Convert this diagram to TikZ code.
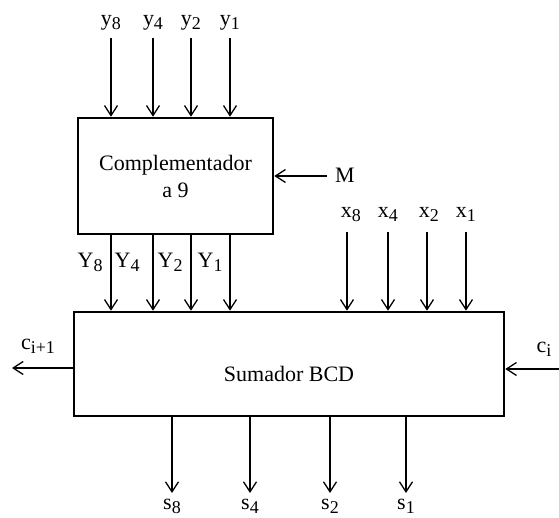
\documentclass[tikz,border=0pt]{standalone}
\usepackage{fontspec}
\setmainfont{Liberation Serif}
\usetikzlibrary{arrows.meta,positioning}
\newcommand{\sigsub}[1]{\raisebox{-1.6pt}{\fontsize{9}{9}\selectfont #1}}
\tikzset{
  unitblock/.style={rectangle,draw=black,line width=1.3pt,fill=white,inner sep=0pt,
    align=center,font=\fontsize{11}{13.5}\selectfont},
  signal/.style={inner sep=0pt,font=\fontsize{11}{13.5}\selectfont},
  arrow/.style={-{Straight Barb[length=5pt,width=6.5pt]},line width=0.65pt}
}

\begin{document}
\begin{tikzpicture}[x=0.5pt,y=-0.5pt]
  \useasboundingbox (0,0) rectangle (559,518);
  \node[unitblock, minimum width=97.5pt, minimum height=58pt] (comp) at (175.5,176) {Complementador\\a 9};
  \node[unitblock, minimum width=215pt, minimum height=52pt, text height=18pt, text depth=0pt] (sum) at (289,364) {Sumador BCD};
  % y inputs
  \node[signal, anchor=base] (ly8) at (111,26) {y\sigsub{8}};
  \node[signal, anchor=base] (ly4) at (153,26) {y\sigsub{4}};
  \node[signal, anchor=base] (ly2) at (191,26) {y\sigsub{2}};
  \node[signal, anchor=base] (ly1) at (230,26) {y\sigsub{1}};
  \coordinate (y8in) at (111,38);
  \coordinate (y4in) at (153,38);
  \coordinate (y2in) at (191,38);
  \coordinate (y1in) at (230,38);
  \draw[arrow] (y8in) -- (y8in |- comp.north);
  \draw[arrow] (y4in) -- (y4in |- comp.north);
  \draw[arrow] (y2in) -- (y2in |- comp.north);
  \draw[arrow] (y1in) -- (y1in |- comp.north);
  % M
  \node[signal, anchor=base] (lm) at (345,183) {M};
  \coordinate (min) at (327,176);
  \draw[arrow] (min) -- (min -| comp.east);
  % Y links
  \node[signal, anchor=base east] (lY8) at (103,268) {Y\sigsub{8}};
  \node[signal, anchor=base east] (lY4) at (140,268) {Y\sigsub{4}};
  \node[signal, anchor=base east] (lY2) at (183,268) {Y\sigsub{2}};
  \node[signal, anchor=base east] (lY1) at (223,268) {Y\sigsub{1}};
  \draw[arrow] (comp.south -| y8in) -- (sum.north -| y8in);
  \draw[arrow] (comp.south -| y4in) -- (sum.north -| y4in);
  \draw[arrow] (comp.south -| y2in) -- (sum.north -| y2in);
  \draw[arrow] (comp.south -| y1in) -- (sum.north -| y1in);
  % x inputs
  \node[signal, anchor=base] (lx8) at (351,218) {x\sigsub{8}};
  \node[signal, anchor=base] (lx4) at (388,218) {x\sigsub{4}};
  \node[signal, anchor=base] (lx2) at (429,218) {x\sigsub{2}};
  \node[signal, anchor=base] (lx1) at (466,218) {x\sigsub{1}};
  \coordinate (x8in) at (347,232);
  \coordinate (x4in) at (388,232);
  \coordinate (x2in) at (427,232);
  \coordinate (x1in) at (466,232);
  \draw[arrow] (x8in) -- (x8in |- sum.north);
  \draw[arrow] (x4in) -- (x4in |- sum.north);
  \draw[arrow] (x2in) -- (x2in |- sum.north);
  \draw[arrow] (x1in) -- (x1in |- sum.north);
  % carries
  \node[signal, anchor=base] (lcout) at (38,350) {c\sigsub{i+1}};
  \node[signal, anchor=base] (lcin) at (544,353) {c\sigsub{i}};
  \coordinate (cout) at (12,368);
  \coordinate (cin) at (559,369);
  \draw[arrow] (sum.west |- cout) -- (cout);
  \draw[arrow] (cin) -- (cin -| sum.east);
  % s outputs
  \coordinate (s8out) at (172,493);
  \coordinate (s4out) at (250,493);
  \coordinate (s2out) at (330,493);
  \coordinate (s1out) at (406,493);
  \draw[arrow] (s8out |- sum.south) -- (s8out);
  \draw[arrow] (s4out |- sum.south) -- (s4out);
  \draw[arrow] (s2out |- sum.south) -- (s2out);
  \draw[arrow] (s1out |- sum.south) -- (s1out);
  \node[signal, anchor=base] (ls8) at (172,510) {s\sigsub{8}};
  \node[signal, anchor=base] (ls4) at (250,510) {s\sigsub{4}};
  \node[signal, anchor=base] (ls2) at (330,510) {s\sigsub{2}};
  \node[signal, anchor=base] (ls1) at (406,510) {s\sigsub{1}};
\end{tikzpicture}
\end{document}
